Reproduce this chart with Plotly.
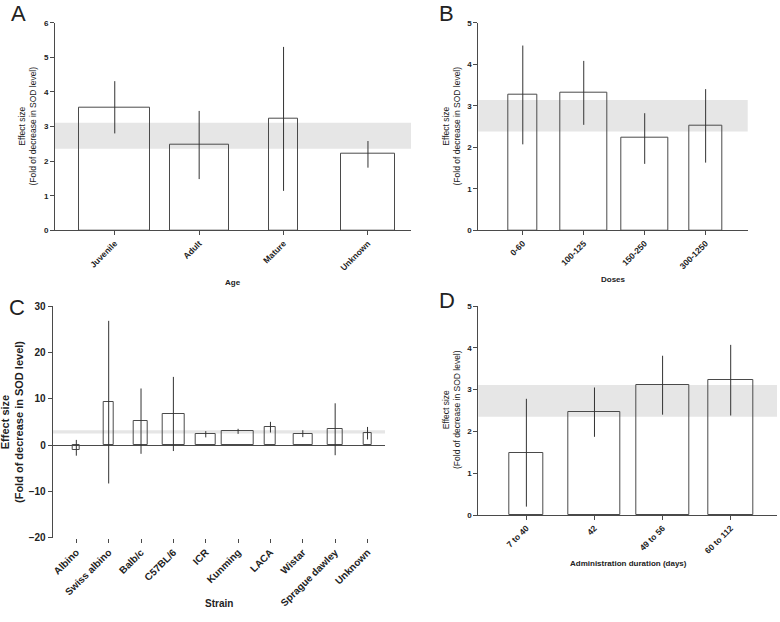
import plotly.graph_objects as go

# ---------------- data ----------------
age_cats = ["Juvenile", "Adult", "Mature", "Unknown"]
age_vals = [3.55, 2.46, 3.24, 2.21]
age_hi = [4.31, 3.45, 5.30, 2.58]
age_lo = [2.80, 1.48, 1.14, 1.81]
age_w = [0.84, 0.70, 0.34, 0.63]
age_band = [2.36, 3.11]

dose_cats = ["0-60", "100-125", "150-250", "300-1250"]
dose_vals = [3.26, 3.32, 2.22, 2.52]
dose_hi = [4.45, 4.08, 2.82, 3.40]
dose_lo = [2.07, 2.54, 1.60, 1.63]
dose_w = [0.49, 0.78, 0.77, 0.54]
dose_band = [2.38, 3.14]

strain_cats = ["Albino", "Swiss albino", "Balb/c", "C57BL/6", "ICR", "Kunming",
               "LACA", "Wistar", "Sprague dawley", "Unknown"]
strain_vals = [-1.0, 9.2, 5.2, 6.7, 2.3, 2.95, 3.9, 2.45, 3.4, 2.5]
strain_hi = [1.1, 26.8, 12.2, 14.7, 3.0, 3.5, 5.0, 3.2, 9.0, 3.9]
strain_lo = [-2.3, -8.3, -1.9, -1.3, 1.65, 2.4, 2.7, 1.7, -2.2, 1.2]
strain_w = [0.20, 0.29, 0.43, 0.67, 0.64, 0.99, 0.34, 0.59, 0.44, 0.24]
strain_band = [2.5, 3.17]

dur_cats = ["7 to 40", "42", "49 to 56", "60 to 112"]
dur_vals = [1.49, 2.46, 3.10, 3.23]
dur_hi = [2.78, 3.05, 3.81, 4.07]
dur_lo = [0.20, 1.87, 2.40, 2.38]
dur_w = [0.50, 0.77, 0.77, 0.67]
dur_band = [2.35, 3.11]

# ---------------- styling ----------------
FONT = "Liberation Sans"
LINE = "#4a4a4a"
ERR = "#333333"
BAND = "#e6e6e6"

fig = go.Figure()

panels = [
    (age_cats, age_vals, age_hi, age_lo, age_w, age_band, ""),
    (dose_cats, dose_vals, dose_hi, dose_lo, dose_w, dose_band, "2"),
    (strain_cats, strain_vals, strain_hi, strain_lo, strain_w, strain_band, "3"),
    (dur_cats, dur_vals, dur_hi, dur_lo, dur_w, dur_band, "4"),
]

for cats, vals, hi, lo, w, band, s in panels:
    fig.add_trace(go.Bar(
        x=cats, y=vals, width=w,
        marker=dict(color="rgba(0,0,0,0)", line=dict(color=LINE, width=1)),
        error_y=dict(type="data", symmetric=False,
                     array=[h - v for h, v in zip(hi, vals)],
                     arrayminus=[v - l for v, l in zip(vals, lo)],
                     width=0, thickness=1, color=ERR),
        xaxis="x" + s, yaxis="y" + s, showlegend=False, hoverinfo="skip",
    ))
    fig.add_shape(type="rect", xref=("x" + s) + " domain", yref="y" + s,
                  x0=0, x1=1, y0=band[0], y1=band[1],
                  fillcolor=BAND, line=dict(width=0), layer="below")

small_tick = dict(family=FONT, size=8.5, color="#222", weight="bold")
ysmall_tick = dict(family=FONT, size=8, color="#222", weight="bold")
big_tick = dict(family=FONT, size=10, color="#222", weight="bold")

def xax(domain, anchor, rng, font, showline=True):
    return dict(domain=domain, anchor=anchor, range=rng, type="category",
                showline=showline, linecolor=LINE, linewidth=1, automargin=False,
                ticks="outside", ticklen=4, tickcolor=LINE, tickangle=-45,
                tickfont=font, showgrid=False, zeroline=False)

def yax(domain, anchor, rng, dtick, font, zeroline=False):
    return dict(domain=domain, anchor=anchor, range=rng, dtick=dtick,
                showline=True, linecolor=LINE, linewidth=1, automargin=False,
                ticks="outside", ticklen=4, tickcolor=LINE,
                tickfont=font, showgrid=False,
                zeroline=zeroline, zerolinecolor=LINE, zerolinewidth=1)

W, H = 780, 622
def px(x): return x / W
def py(y): return 1 - y / H

fig.update_layout(
    width=W, height=H, margin=dict(l=0, r=0, t=0, b=0, autoexpand=False),
    paper_bgcolor="white", plot_bgcolor="white",
    font=dict(family=FONT, color="#222"),
    bargap=0,
    xaxis=xax([px(55), px(411)], "y", [-0.708, 3.51], small_tick),
    yaxis=yax([py(230.3), py(22.7)], "x", [0, 6], 1, ysmall_tick),
    xaxis2=xax([px(478.3), px(747.7)], "y2", [-0.73, 3.69], small_tick),
    yaxis2=yax([py(230.3), py(22.7)], "x2", [0, 5], 1, ysmall_tick),
    xaxis3=xax([px(52.7), px(385)], "y3", [-0.73, 9.54], big_tick, showline=False),
    yaxis3=yax([py(537.7), py(306)], "x3", [-20, 30], 10, big_tick, zeroline=True),
    xaxis4=xax([px(478.3), px(777)], "y4", [-0.706, 3.68], small_tick),
    yaxis4=yax([py(515), py(306)], "x4", [0, 5], 1, ysmall_tick),
)

ytitle = "Effect size<br>(Fold of decrease in SOD level)"
ann = []
for x, yc, size, bold in [(27, 126.5, 8.5, False), (451, 126.5, 8.5, False),
                          (12, 422, 11, True), (451, 410, 8.5, False)]:
    ann.append(dict(text=ytitle, x=px(x), y=py(yc), xref="paper", yref="paper",
                    textangle=-90, showarrow=False, xanchor="center", yanchor="middle",
                    font=dict(family=FONT, size=size, color="#222",
                              weight="bold" if bold else "normal")))
for txt, x, y, size in [("Age", 233, 282, 8), ("Doses", 613, 279, 8),
                        ("Strain", 219, 603, 10), ("Administration duration (days)", 628, 563, 8)]:
    ann.append(dict(text=txt, x=px(x), y=py(y), xref="paper", yref="paper",
                    showarrow=False, xanchor="center", yanchor="middle",
                    font=dict(family=FONT, size=size, color="#222", weight="bold")))
for txt, x, y in [("A", 18, 13), ("B", 447, 13), ("C", 17, 307), ("D", 447, 300)]:
    ann.append(dict(text=txt, x=px(x), y=py(y), xref="paper", yref="paper",
                    showarrow=False, xanchor="center", yanchor="middle",
                    font=dict(family=FONT, size=22, color="#222")))
fig.update_layout(annotations=ann)

fig.write_html("out.html", config={"displayModeBar": False},
               post_script="document.body.style.margin='0';document.body.style.padding='0';")
